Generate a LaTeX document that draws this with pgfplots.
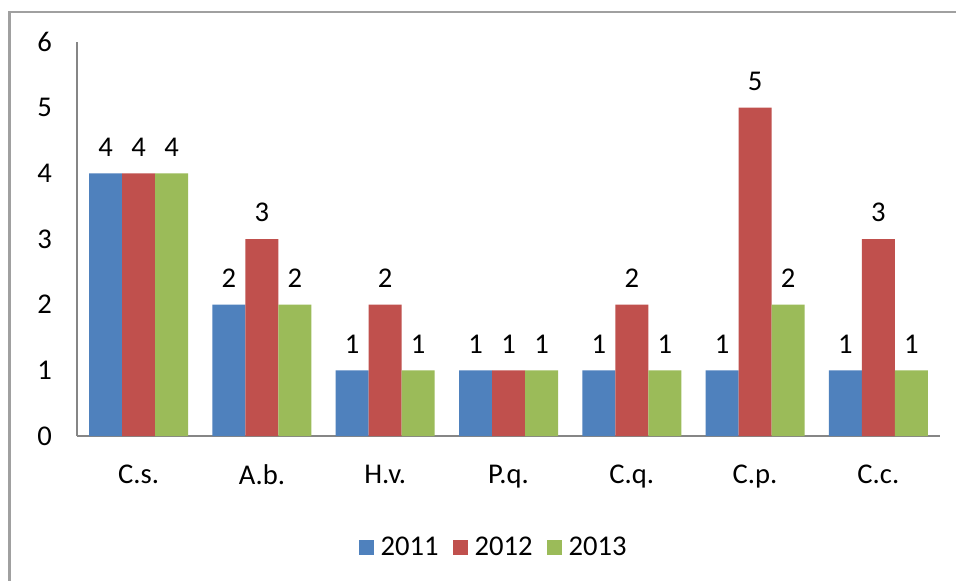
\documentclass[border=0pt]{standalone}
\usepackage{fontspec}
\setmainfont{Carlito}
\usepackage{pgfplots}
\pgfplotsset{compat=1.18}
\definecolor{cblue}{HTML}{4F81BD}
\definecolor{cred}{HTML}{C0504D}
\definecolor{cgreen}{HTML}{9BBB59}
\definecolor{axgrey}{HTML}{868686}
\definecolor{frgrey}{HTML}{A0A0A0}
\begin{document}
\begin{tikzpicture}[x=0.5pt,y=0.5pt]
\useasboundingbox (0,0) rectangle (956,580);
\fill[white] (0,0) rectangle (956,580);
\draw[frgrey, line width=1.2pt] (9.5,-10) -- (9.5,568) -- (970,568);
\begin{axis}[
  at={(38.5pt,72pt)}, anchor=south west,
  scale only axis, width=431.5pt, height=197pt,
  ymin=0, ymax=6, xmin=-0.5, xmax=6.5,
  ybar=0pt, bar width=16.5pt,
  axis x line*=bottom, axis y line*=left,
  axis line style={axgrey, line width=1pt, -},
  major tick length=0pt,
  xtick={0,1,2,3,4,5,6},
  xticklabels={C.s.,A.b.,H.v.,P.q.,C.q.,C.p.,C.c.},
  ytick={0,1,...,6},
  /pgf/number format/assume math mode=true,
  tick label style={font=\fontsize{14.3}{17}\selectfont},
  yticklabel style={anchor=east, xshift=-9pt},
  xticklabel style={anchor=north, yshift=-11pt},
  nodes near coords,
  nodes near coords style={font=\fontsize{14.3}{17}\selectfont, anchor=south, yshift=5pt},
  legend columns=3,
  legend style={draw=none, at={(0.4838,-0.284)}, anchor=center, font=\fontsize{14.3}{17}\selectfont,
    /tikz/every even column/.append style={column sep=5pt}},
  legend image code/.code={\fill[#1, draw=none] (0pt,-3.75pt) rectangle (7.5pt,3.75pt); \path (9pt,0pt);},
]
\addplot[fill=cblue, draw=none] coordinates {(0,4) (1,2) (2,1) (3,1) (4,1) (5,1) (6,1)};
\addplot[fill=cred, draw=none] coordinates {(0,4) (1,3) (2,2) (3,1) (4,2) (5,5) (6,3)};
\addplot[fill=cgreen, draw=none] coordinates {(0,4) (1,2) (2,1) (3,1) (4,1) (5,2) (6,1)};
\legend{2011,2012,2013}
\end{axis}
\end{tikzpicture}
\end{document}
